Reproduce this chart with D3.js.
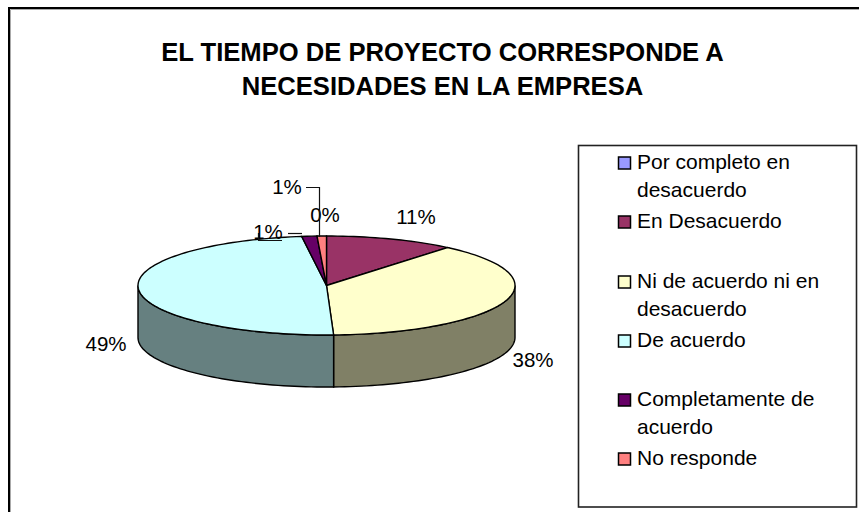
<!DOCTYPE html>
<html><head><meta charset="utf-8">
<script src="https://cdn.jsdelivr.net/npm/d3@7/dist/d3.min.js"></script>
<style>html,body{margin:0;padding:0;background:#fff}svg{display:block}text{font-family:"Liberation Sans",Arial,sans-serif;fill:#000}</style>
</head><body><div id="c"></div>
<script>
const categories=["Por completo en desacuerdo","En Desacuerdo","Ni de acuerdo ni en desacuerdo","De acuerdo","Completamente de acuerdo","No responde"];
const values=[0,11.1,38.3,48.5,1.3,0.8];
const labels=["0%","11%","38%","49%","1%","1%"];
const colors=["#9999FF","#993366","#FFFFCC","#CCFFFF","#660066","#FF8080"];
const sideColors=["#4d4d80","#4d1a33","#808066","#668080","#330033","#804040"];
const titleLines=["EL TIEMPO DE PROYECTO CORRESPONDE A","NECESIDADES EN LA EMPRESA"];
const legendLines=[["Por completo en","desacuerdo"],["En Desacuerdo"],["Ni de acuerdo ni en","desacuerdo"],["De acuerdo"],["Completamente de","acuerdo"],["No responde"]];

const W=859,H=512,cx=326.5,cy=285.5,rx=188.5,ry=49.5,depth=52;
const svg=d3.select("#c").append("svg").attr("width",W).attr("height",H);
svg.append("path").attr("d","M10.5,512V9.5H859").attr("fill","none").attr("stroke","#aaa").attr("stroke-width",1);
svg.append("path").attr("d","M9,512V8H859").attr("fill","none").attr("stroke","#000").attr("stroke-width",2);

svg.selectAll("text.title").data(titleLines).join("text").attr("class","title")
 .attr("x",442.5).attr("y",(d,i)=>61+i*33.5).attr("text-anchor","middle")
 .attr("font-size",25.6).attr("font-weight","bold").text(d=>d);

const arcs=d3.pie().sort(null)(values);
const px=a=>cx+rx*Math.sin(a), py=a=>cy-ry*Math.cos(a);
const ang=(a0,a1)=>{const n=Math.max(2,Math.ceil((a1-a0)/0.03));return d3.range(n+1).map(i=>a0+(a1-a0)*i/n);};
const line=d3.line();
const pie=svg.append("g");
arcs.forEach((s,i)=>{
  const a0=Math.max(s.startAngle,Math.PI/2),a1=Math.min(s.endAngle,Math.PI*1.5);
  if(a1<=a0)return;
  const top=ang(a0,a1).map(a=>[px(a),py(a)]);
  const bot=top.slice().reverse().map(p=>[p[0],p[1]+depth]);
  pie.append("path").attr("d",line(top.concat(bot))+"Z").attr("fill",sideColors[i]).attr("stroke","#000").attr("stroke-width",1.4);
});
arcs.forEach((s,i)=>{
  if(s.endAngle-s.startAngle<=0)return;
  const pts=[[cx,cy]].concat(ang(s.startAngle,s.endAngle).map(a=>[px(a),py(a)]));
  pie.append("path").attr("d",line(pts)+"Z").attr("fill",colors[i]).attr("stroke","#000").attr("stroke-width",1.4);
});

const labelPos=[[325,222],[416,224],[533,367],[106,351],[268,239],[287,194]];
svg.selectAll("text.lab").data(labels).join("text").attr("class","lab")
 .attr("x",(d,i)=>labelPos[i][0]).attr("y",(d,i)=>labelPos[i][1])
 .attr("text-anchor","middle").attr("font-size",20.5).text(d=>d);
const leaders=[[[306,187.5],[319.5,187.5],[319.5,237]],[[288,233.5],[302,233.5]],[[258.5,233],[258.5,240.5],[282,240.5]]];
leaders.forEach(l=>svg.append("path").attr("d",line(l)).attr("fill","none").attr("stroke","#111").attr("stroke-width",1.2));

const lx=578.5,ly=145.5,lw=278,lh=361.5;
svg.append("rect").attr("x",lx).attr("y",ly).attr("width",lw).attr("height",lh).attr("fill","none").attr("stroke","#222").attr("stroke-width",1.6);
const rowsY=[169,228,288,347,406,465];
const lineH=28;
rowsY.forEach((y,i)=>{
  svg.append("rect").attr("x",618.5).attr("y",y-12).attr("width",12).attr("height",12).attr("fill",colors[i]).attr("stroke","#000").attr("stroke-width",1.5);
  legendLines[i].forEach((t,j)=>svg.append("text").attr("x",637).attr("y",y+j*lineH).attr("font-size",21).text(t));
});
</script></body></html>
